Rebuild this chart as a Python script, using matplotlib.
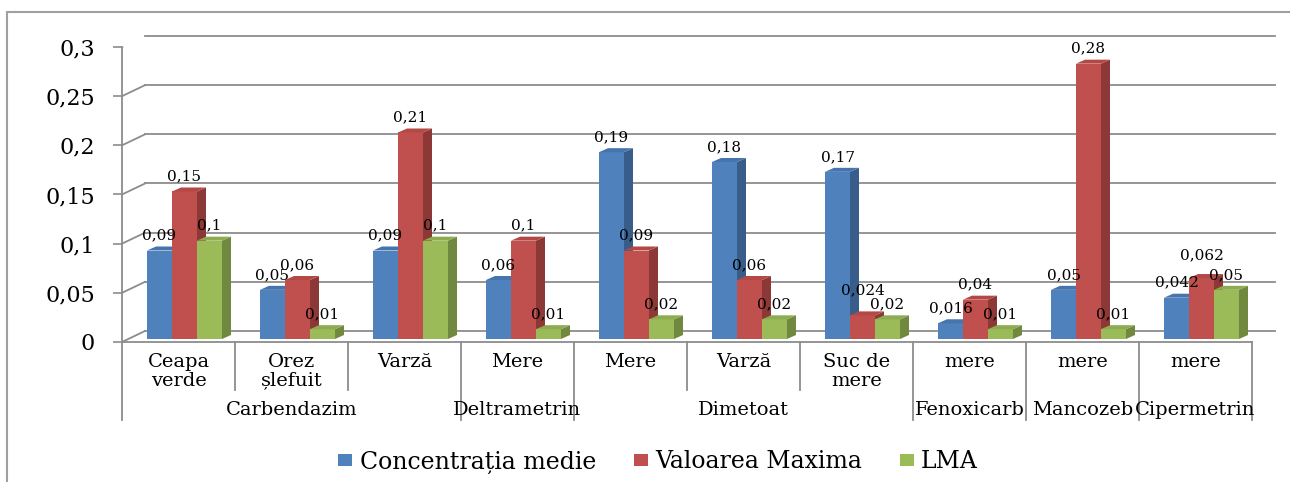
import matplotlib
matplotlib.use("Agg")
import matplotlib.pyplot as plt
import matplotlib.transforms as mtransforms
from matplotlib.patches import Polygon, Rectangle, Patch
from matplotlib.lines import Line2D


# Data
categories = ["Ceapa\nverde", "Orez\nșlefuit", "Varză", "Mere", "Mere",
              "Varză", "Suc de\nmere", "mere", "mere", "mere"]
groups = ["Carbendazim", "Deltrametrin", "Dimetoat", "Fenoxicarb",
          "Mancozeb", "Cipermetrin"]
group_sizes = [3, 1, 3, 1, 1, 1]
series_names = ["Concentrația medie", "Valoarea Maxima", "LMA"]
conc_medie = [0.09, 0.05, 0.09, 0.06, 0.19, 0.18, 0.17, 0.016, 0.05, 0.042]
val_max = [0.15, 0.06, 0.21, 0.1, 0.09, 0.06, 0.024, 0.04, 0.28, 0.062]
lma = [0.1, 0.01, 0.1, 0.01, 0.02, 0.02, 0.02, 0.01, 0.01, 0.05]
yticks = [0, 0.05, 0.1, 0.15, 0.2, 0.25, 0.3]

FRONT = ["#4F81BD", "#C0504D", "#9BBB59"]
SIDE = ["#385D8A", "#8C3836", "#71893F"]
TOP = ["#4674AD", "#B34845", "#8DAB50"]
GRID = "#8C8C8C"
FONT = "DejaVu Serif"

W, H = 1290, 482
WALL_DX, WALL_DY = 23, 11     # depth of the back wall, pixels
BAR_DX, BAR_DY = 6, 3         # where the bar fronts sit inside the floor
SIDE_DX, SIDE_DY = 9, 4       # bar depth
LABEL_LIFT = 15
# a few labels were nudged up in the original to dodge their neighbours
EXTRA_LIFT = {(6, 1): 10, (9, 1): 8}


def fmt(v):
    return f"{v:g}".replace(".", ",")


def main():
    fig = plt.figure(figsize=(W / 100, H / 100), dpi=100)
    # front plane of the plot: x 122..1252 px, y 342..47 px
    ax = fig.add_axes([122 / W, (H - 342) / H, (1252 - 122) / W, (342 - 47) / H])
    ax.set_xlim(0, len(categories))
    ax.set_ylim(0, 0.3)
    ax.patch.set_visible(False)
    for s in ["top", "right"]:
        ax.spines[s].set_visible(False)
    ax.spines["left"].set_color(GRID)
    ax.spines["bottom"].set_color(GRID)
    ax.spines["left"].set_linewidth(1.3)
    ax.spines["bottom"].set_linewidth(1.3)
    ax.set_xticks([])
    ax.set_yticks(yticks)
    ax.set_yticklabels([fmt(t) for t in yticks], fontsize=16, family=FONT)
    ax.tick_params(axis="y", length=6.5, width=1.2, color=GRID, pad=13)

    ident = mtransforms.IdentityTransform()
    wall = mtransforms.offset_copy(ax.transData, fig=fig, x=WALL_DX, y=WALL_DY, units="dots")

    # back wall gridlines and the diagonals joining them to the axis
    n = len(categories)
    for t in yticks:
        ax.plot([0, n], [t, t], color=GRID, lw=1.3, transform=wall, clip_on=False, zorder=1)
        x0, y0 = ax.transData.transform((0, t))
        ax.add_line(Line2D([x0, x0 + WALL_DX], [y0, y0 + WALL_DY], color=GRID,
                           lw=1.3, transform=ident, zorder=1))
    # right edge of the floor
    x1, y1 = ax.transData.transform((n, 0))
    ax.add_line(Line2D([x1, x1 + WALL_DX], [y1, y1 + WALL_DY], color=GRID,
                       lw=1.3, transform=ident, zorder=1))

    # bars
    bar_trans = mtransforms.offset_copy(ax.transData, fig=fig, x=BAR_DX, y=BAR_DY, units="dots")
    width = 25 / 113
    series = [conc_medie, val_max, lma]
    for i in range(n):
        for j, vals in enumerate(series):
            v = vals[i]
            xc = i + 0.5 + (j - 1) * width
            z = 3 + i * 0.01 + j
            ax.bar(xc, v, width=width, color=FRONT[j], transform=bar_trans,
                   zorder=z, clip_on=False)
            (xl, yb), (xr, yt) = bar_trans.transform([(xc - width / 2, 0), (xc + width / 2, v)])
            side = [(xr, yb), (xr, yt), (xr + SIDE_DX, yt + SIDE_DY), (xr + SIDE_DX, yb + SIDE_DY)]
            top = [(xl, yt), (xr, yt), (xr + SIDE_DX, yt + SIDE_DY), (xl + SIDE_DX, yt + SIDE_DY)]
            ax.add_patch(Polygon(side, closed=True, facecolor=SIDE[j], edgecolor="none",
                                 transform=ident, zorder=z))
            ax.add_patch(Polygon(top, closed=True, facecolor=TOP[j], edgecolor="none",
                                 transform=ident, zorder=z))
            xm, ym = bar_trans.transform((xc, v))
            lift = LABEL_LIFT + EXTRA_LIFT.get((i, j), 0)
            ax.text(xm, ym + lift, fmt(v), transform=ident, ha="center", va="center",
                    fontsize=11, family=FONT, zorder=20)

    # two-level category axis
    xfig = mtransforms.blended_transform_factory(ax.transData, fig.transFigure)
    for i, lab in enumerate(categories):
        ax.text(i + 0.5, (H - 353) / H, lab, transform=xfig, ha="center", va="top",
                fontsize=14, family=FONT, linespacing=1.05)
    starts = [0]
    for size in group_sizes:
        starts.append(starts[-1] + size)
    for k, g in enumerate(groups):
        ax.text((starts[k] + starts[k + 1]) / 2, (H - 410) / H, g, transform=xfig,
                ha="center", va="center", fontsize=14, family=FONT)
    for b in range(n + 1):
        y_end = 420 if b in starts else 390
        ax.plot([b, b], [(H - 342) / H, (H - y_end) / H], color=GRID, lw=1.3,
                transform=xfig, clip_on=False)

    # legend
    handles = [Patch(facecolor=c, edgecolor="none") for c in FRONT]
    fig.legend(handles, series_names, loc="center", bbox_to_anchor=(658 / W, 20 / H),
               ncol=3, frameon=False, prop={"family": FONT, "size": 17},
               handlelength=0.6, handleheight=0.45, handletextpad=0.3, columnspacing=1.6)

    # outer chart border (runs off the right and bottom edges)
    fig.patches.append(Rectangle((7 / W, -0.5), 2.0, (H - 12) / H + 0.5, fill=False,
                                 edgecolor="#A0A0A0", lw=1.5, transform=fig.transFigure))

    fig.savefig("out.png", dpi=100)
    plt.close(fig)


if __name__ == "__main__":
    main()
